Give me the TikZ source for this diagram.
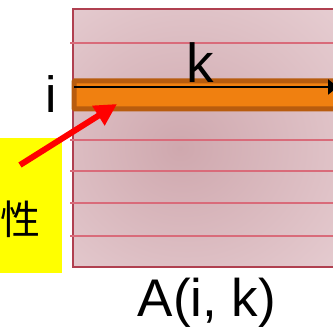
\documentclass[tikz,border=0pt]{standalone}
\usepackage{fontspec}
\setmainfont{Liberation Sans}
\newfontfamily\cjk{Noto Sans CJK SC}
\usetikzlibrary{arrows.meta}
\definecolor{matcenter}{RGB}{207,168,174}
\definecolor{matouter}{RGB}{237,216,220}
\definecolor{matborder}{RGB}{176,64,80}
\definecolor{rowline}{RGB}{217,107,122}
\definecolor{barfill}{RGB}{240,128,16}
\definecolor{barborder}{RGB}{184,92,14}
\definecolor{hlyellow}{RGB}{255,255,0}
\pgfdeclareradialshading{matshade}{\pgfpoint{-6bp}{-2bp}}{color(0bp)=(matcenter); color(48bp)=(matouter); color(100bp)=(matouter)}
\tikzset{
  rowsep/.style={draw=rowline,line width=1.5pt},
  bigtext/.style={font=\fontsize{53}{53}\selectfont,inner sep=0pt,anchor=base},
  pointer/.style={draw=red,line width=6pt,-{Triangle[length=22pt,width=22pt]}},
  dirarrow/.style={draw=black,line width=2pt,-{Triangle[length=10pt,width=15pt]}}
}
\begin{document}
\begin{tikzpicture}[x=1pt,y=-1pt]
\useasboundingbox (0,0) rectangle (333,328);
\clip (0,0) rectangle (333,328);
% matrix background
\node[draw=matborder,line width=2pt,inner sep=0pt,minimum width=280pt,minimum height=258pt,anchor=north west,
  shading=matshade] (mat) at (72,8) {};
% row lines
\foreach \yy in {43,140,171,203,236}{
  \draw[rowsep] (70,\yy) -- (340,\yy);
}
% orange row
\node[draw=barborder,fill=barfill,line width=5pt,rounded corners=1pt,inner sep=0pt,minimum width=290pt,minimum height=28pt,anchor=north west] (bar) at (71.5,78.5) {};
\coordinate (kstart) at (74,87);
\coordinate (kend) at (338,87);
\draw[dirarrow] (kstart) -- (kend);
% labels
\node[bigtext,font=\fontsize{55}{55}\selectfont] (k) at (200,83) {k};
\node[bigtext,font=\fontsize{51}{51}\selectfont] (i) at (51,113) {i};
\node[bigtext] (Aik) at (207,317) {A(i, k)};
% yellow box
\node[fill=hlyellow,inner sep=0pt,minimum width=62pt,minimum height=135pt,anchor=north west] (note) at (0,138) {};
\node[font=\cjk\fontsize{40}{40}\selectfont,inner sep=0pt] (notetext) at (20.2,219) {性};
% red pointer
\coordinate (pfrom) at (20,165);
\coordinate (pto) at (117,104);
\draw[pointer] (pfrom) -- (pto);
\end{tikzpicture}
\end{document}
